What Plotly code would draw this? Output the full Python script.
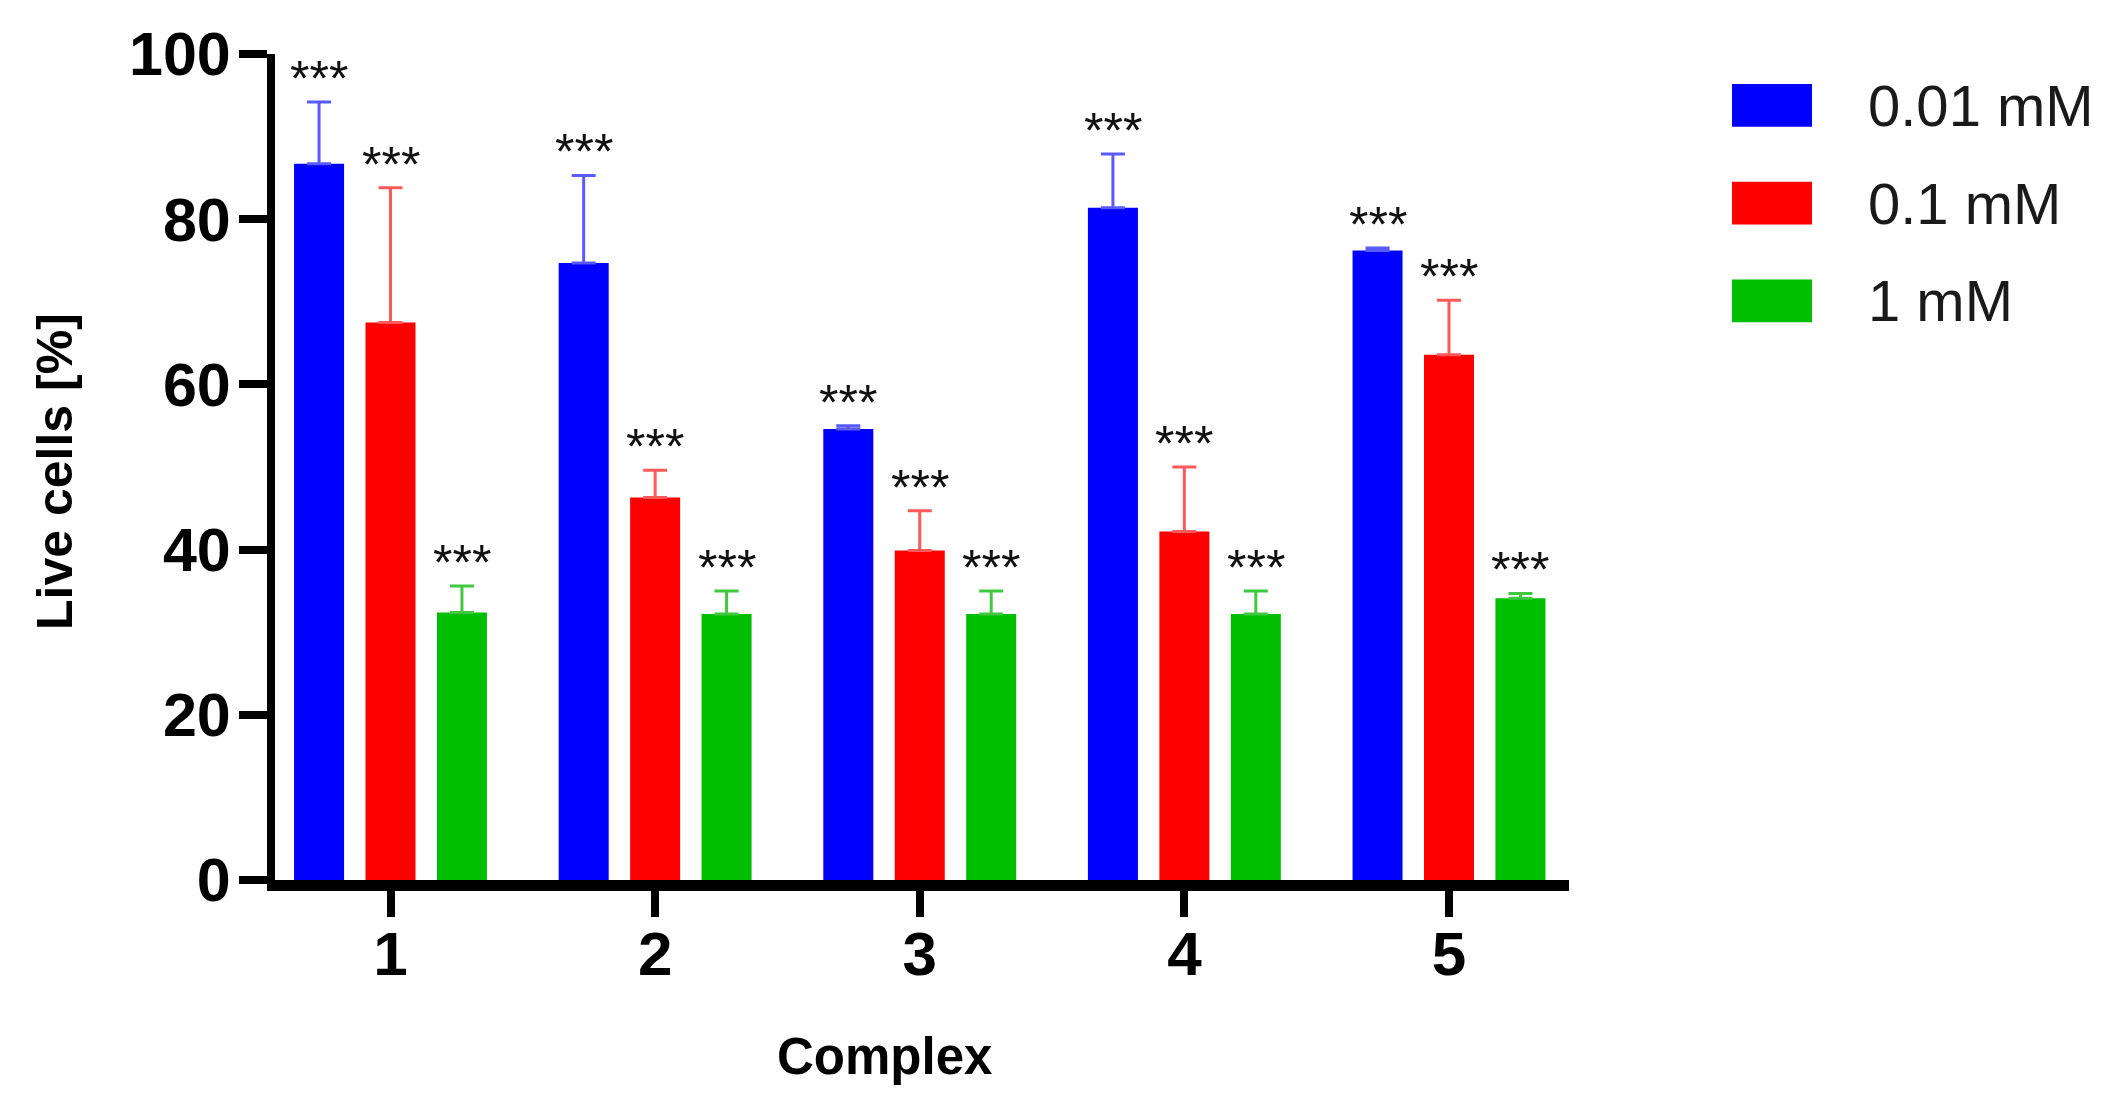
import plotly.graph_objects as go

# ---- data ----
complexes = ["1", "2", "3", "4", "5"]
series_names = ["0.01 mM", "0.1 mM", "1 mM"]
blue_vals = [86.7, 74.7, 54.6, 81.4, 76.2]
blue_err = [7.5, 10.6, 0.4, 6.5, 0.3]
red_vals = [67.5, 46.3, 39.9, 42.2, 63.6]
red_err = [16.3, 3.3, 4.8, 7.8, 6.6]
green_vals = [32.4, 32.2, 32.2, 32.2, 34.1]
green_err = [3.2, 2.8, 2.8, 2.8, 0.6]
significance = ["***"] * 5
y_ticks = [0, 20, 40, 60, 80, 100]

# ---- style / layout (page body has an 8px default margin) ----
BODY = 8
W, H = 2121 - 2 * BODY, 1109 - 2 * BODY
ML, MT = 267, 44
PW, PH = 1294, 828
MR, MB = W - ML - PW, H - MT - PH
FONT = "Arial, Liberation Sans, sans-serif"
bar_colors = ["#0000FF", "#FF0000", "#00BF00"]
err_colors = ["#5A5AFF", "#FF5A5A", "#40C840"]
BAR_W = 0.189
STEP = 0.270


def px_x(px):
    """image pixel x -> paper coordinate"""
    return (px - BODY - ML) / PW


def px_y(py):
    """image pixel y -> paper coordinate"""
    return (MT + PH - (py - BODY)) / PH


x_pos = list(range(1, len(complexes) + 1))
vals = [blue_vals, red_vals, green_vals]
errs = [blue_err, red_err, green_err]

fig = go.Figure()
for j, (name, v, e) in enumerate(zip(series_names, vals, errs)):
    fig.add_trace(go.Bar(
        x=x_pos, y=v, name=name,
        width=BAR_W, offset=(j - 1) * STEP - BAR_W / 2,
        marker=dict(color=bar_colors[j], line=dict(width=0)),
        error_y=dict(type="data", array=e, arrayminus=[0] * len(e), symmetric=False,
                     color=err_colors[j], thickness=3, width=12),
        showlegend=False,
    ))
    for i, xv in enumerate(x_pos):
        fig.add_annotation(
            x=xv + (j - 1) * STEP, y=v[i] + e[i], xref="x", yref="y",
            text=significance[i], showarrow=False, yanchor="bottom",
            yshift=-7, font=dict(family=FONT, size=50, color="#111111"),
        )

# custom legend
leg_rows = [103.5, 201.5, 299.5]
for j, name in enumerate(series_names):
    cy = leg_rows[j]
    fig.add_shape(type="rect", xref="paper", yref="paper",
                  x0=px_x(1732), x1=px_x(1812), y0=px_y(cy + 21.5), y1=px_y(cy - 21.5),
                  fillcolor=bar_colors[j], line=dict(width=0))
    fig.add_annotation(x=px_x(1866), y=px_y(cy), xref="paper", yref="paper",
                       text=name, showarrow=False, xanchor="left", yanchor="middle",
                       font=dict(family=FONT, size=58, color="#1a1a1a"))

# axis titles
fig.add_annotation(x=px_x(884), y=px_y(1057), xref="paper", yref="paper",
                   text="<b>Complex</b>", showarrow=False, xanchor="center", yanchor="middle",
                   font=dict(family=FONT, size=51, color="black"))
fig.add_annotation(x=px_x(55), y=px_y(471), xref="paper", yref="paper",
                   text="<b>Live cells [%]</b>", showarrow=False, textangle=-90,
                   xanchor="center", yanchor="middle",
                   font=dict(family=FONT, size=50, color="black"))

fig.update_layout(
    width=W, height=H,
    margin=dict(l=ML, r=MR, t=MT, b=MB, pad=0),
    plot_bgcolor="white", paper_bgcolor="white",
    barmode="overlay",
    font=dict(family=FONT, color="black"),
)
fig.update_xaxes(
    range=[0.5635, 5.4535], tickmode="array", tickvals=x_pos, ticktext=complexes,
    showline=True, linecolor="black", linewidth=11, showgrid=False, zeroline=False,
    ticks="outside", ticklen=26, tickwidth=8, tickcolor="black",
    ticklabelstandoff=-16,
    tickfont=dict(family=FONT, size=62, color="black", weight="bold"),
)
fig.update_yaxes(
    range=[0, 100], tickmode="array", tickvals=y_ticks,
    showline=True, linecolor="black", linewidth=8, showgrid=False, zeroline=False,
    ticks="outside", ticklen=28, tickwidth=8, tickcolor="black",
    ticklabelstandoff=-4,
    tickfont=dict(family=FONT, size=61, color="black", weight="bold"),
)

fig.write_html("out.html")
